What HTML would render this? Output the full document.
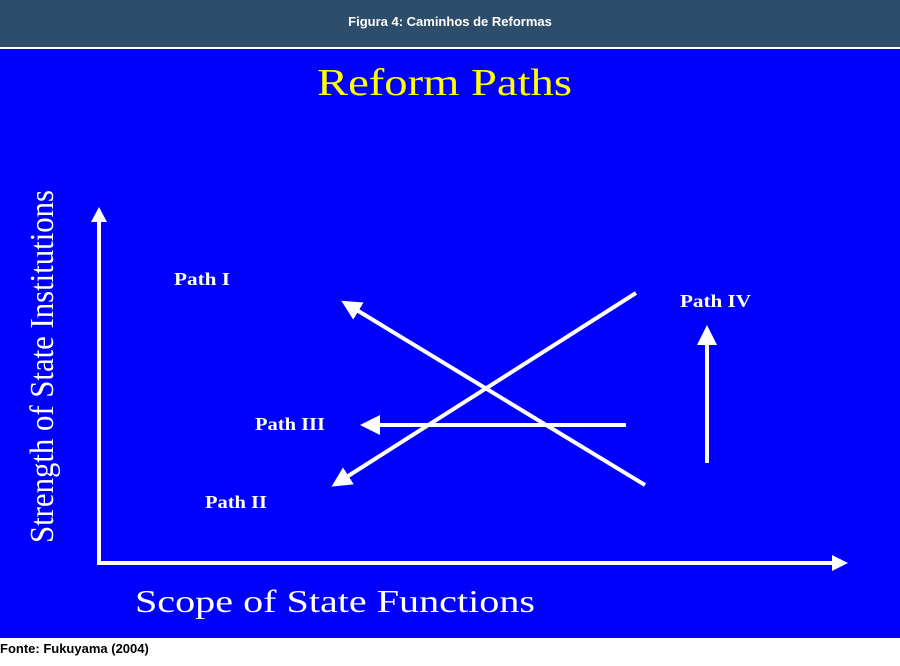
<!DOCTYPE html>
<html><head><style>
body{margin:0;width:900px;height:666px;background:#fff;position:relative;overflow:hidden;font-family:"Liberation Sans",sans-serif}
#hd{position:absolute;left:0;top:0;width:900px;height:47px;background:#2e4d6a;color:#fff;font-weight:bold;font-size:13px;text-align:center;line-height:44px}
#bl{position:absolute;left:0;top:49px;width:900px;height:589px;background:#0000fe}
#ft{position:absolute;left:0;top:641px;font-weight:bold;font-size:13px;color:#000}
</style></head><body>
<div id="hd">Figura 4: Caminhos de Reformas</div>
<div id="bl"></div>
<svg style="position:absolute;left:0;top:0" width="900" height="666">
<defs><marker id="a" markerWidth="5" markerHeight="5" refX="1" refY="2.5" orient="auto" markerUnits="strokeWidth"><path d="M0,0 L5,2.5 L0,5z" fill="#fff"/></marker></defs>
<g font-family="Liberation Serif,serif">
<text x="317" y="95" fill="#ffff00" font-size="38" textLength="255" lengthAdjust="spacingAndGlyphs">Reform Paths</text>
<text x="135" y="612" fill="#fff" font-size="32" textLength="400" lengthAdjust="spacingAndGlyphs">Scope of State Functions</text>
<text transform="translate(53,543) rotate(-90)" fill="#fff" font-size="34" textLength="353" lengthAdjust="spacingAndGlyphs">Strength of State Institutions</text>
<g fill="#fff" font-weight="bold" font-size="18">
<text x="174" y="285" textLength="56" lengthAdjust="spacingAndGlyphs">Path I</text>
<text x="680" y="307" textLength="71" lengthAdjust="spacingAndGlyphs">Path IV</text>
<text x="255" y="430" textLength="70" lengthAdjust="spacingAndGlyphs">Path III</text>
<text x="205" y="508" textLength="62" lengthAdjust="spacingAndGlyphs">Path II</text>
</g></g>
<g stroke="#fff" stroke-width="4" fill="none">
<polyline points="99,220 99,563 832,563"/>
<line x1="645" y1="485" x2="355" y2="309" marker-end="url(#a)"/>
<line x1="636" y1="293" x2="345" y2="478" marker-end="url(#a)"/>
<line x1="626" y1="425" x2="376" y2="425" marker-end="url(#a)"/>
<line x1="707" y1="463" x2="707" y2="341" marker-end="url(#a)"/>
</g>
<path d="M99,207 L107,222 L91,222z" fill="#fff"/>
<path d="M848,563 L832,555 L832,571z" fill="#fff"/>
</svg>
<div id="ft">Fonte: Fukuyama (2004)</div>
</body></html>
